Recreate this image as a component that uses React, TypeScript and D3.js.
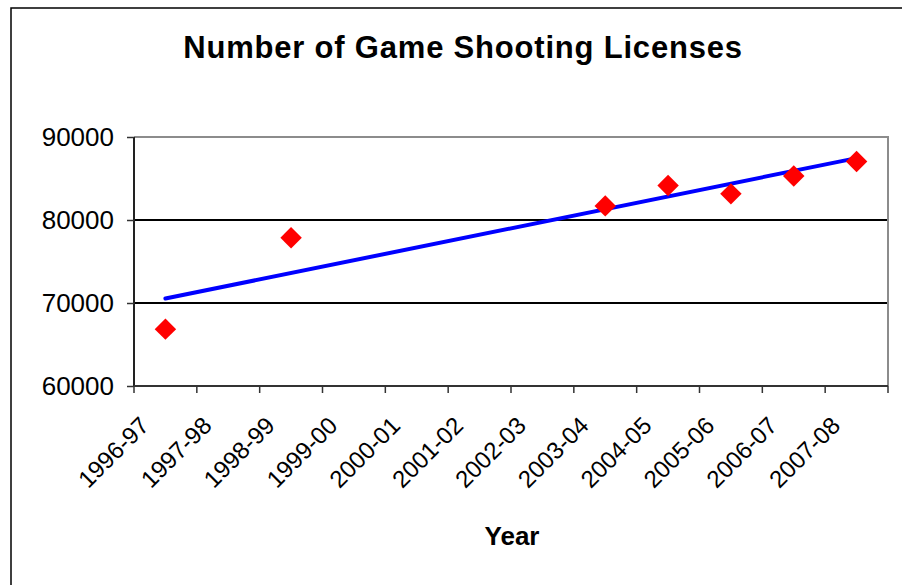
import React, { useEffect, useRef } from 'react';
import * as d3 from 'd3';

const years = [
  '1996-97', '1997-98', '1998-99', '1999-00', '2000-01', '2001-02',
  '2002-03', '2003-04', '2004-05', '2005-06', '2006-07', '2007-08',
];
// null = no licence count reported for that season
const licenses: (number | null)[] = [
  66850, null, 77850, null, null, null, null, 81700, 84150, 83150, 85300, 87050,
];
const yTicks = [60000, 70000, 80000, 90000];

const W = 902;
const H = 585;
const plot = { left: 134, right: 888, top: 137, bottom: 386 };
const FONT = "'Liberation Sans', Arial, sans-serif";

export default function App() {
  const svgRef = useRef<SVGSVGElement>(null);

  useEffect(() => {
    const svg = d3.select(svgRef.current);
    svg.selectAll('*').remove();

    const x = d3.scaleBand<string>().domain(years).range([plot.left, plot.right]);
    const y = d3.scaleLinear().domain([60000, 90000]).range([plot.bottom, plot.top]);
    const cx = (d: string) => (x(d) ?? 0) + x.bandwidth() / 2;

    // chart frame
    svg.append('rect')
      .attr('x', 11).attr('y', 8).attr('width', 1000).attr('height', 1000)
      .attr('fill', 'white').attr('stroke', '#000').attr('stroke-width', 1.5);

    // title
    svg.append('text')
      .attr('x', 463).attr('y', 58)
      .attr('text-anchor', 'middle')
      .style('font-family', FONT).style('font-weight', 'bold')
      .style('font-size', '31px').style('letter-spacing', '0.8px')
      .text('Number of Game Shooting Licenses');

    // gridlines
    svg.append('g').selectAll('line')
      .data([70000, 80000])
      .join('line')
      .attr('x1', plot.left).attr('x2', plot.right)
      .attr('y1', d => y(d)).attr('y2', d => y(d))
      .attr('stroke', '#000').attr('stroke-width', 2);

    // plot border (top + right in grey)
    svg.append('path')
      .attr('d', `M${plot.left},${plot.top}H${plot.right}V${plot.bottom}`)
      .attr('fill', 'none').attr('stroke', '#8c8c8c').attr('stroke-width', 2);

    // y axis
    const yAxis = svg.append('g')
      .attr('transform', `translate(${plot.left},0)`)
      .call(d3.axisLeft(y).tickValues(yTicks).tickSize(7).tickPadding(13).tickFormat(d3.format('d')));
    yAxis.select('.domain').attr('stroke', '#222').attr('stroke-width', 2).attr('d', `M0,${plot.top}V${plot.bottom}`);
    yAxis.selectAll('.tick line').attr('stroke', '#333').attr('stroke-width', 1.5);
    yAxis.selectAll('.tick text')
      .style('font-family', FONT).style('font-size', '26px').attr('fill', '#000');

    // x axis
    const xAxis = svg.append('g').attr('transform', `translate(0,${plot.bottom})`);
    xAxis.append('line')
      .attr('x1', plot.left).attr('x2', plot.right)
      .attr('stroke', '#333').attr('stroke-width', 2);
    const bounds = years.map(d => x(d) ?? 0).concat([plot.right]);
    xAxis.selectAll('line.tk')
      .data(bounds)
      .join('line')
      .attr('class', 'tk')
      .attr('x1', d => d).attr('x2', d => d)
      .attr('y1', 0).attr('y2', 7)
      .attr('stroke', '#333').attr('stroke-width', 1.5);
    xAxis.selectAll('text')
      .data(years)
      .join('text')
      .attr('transform', d => `translate(${cx(d) - 15},${41}) rotate(-45)`)
      .attr('text-anchor', 'end')
      .style('font-family', FONT).style('font-size', '24px')
      .text(d => d);

    // axis title
    svg.append('text')
      .attr('x', 512).attr('y', 545)
      .attr('text-anchor', 'middle')
      .style('font-family', FONT).style('font-weight', 'bold').style('font-size', '26px')
      .text('Year');

    // linear trend line (least squares over category index)
    const pts = years
      .map((d, i) => ({ d, i: i + 1, v: licenses[i] }))
      .filter(p => p.v != null) as { d: string; i: number; v: number }[];
    const mx = d3.mean(pts, p => p.i) ?? 0;
    const my = d3.mean(pts, p => p.v) ?? 0;
    const slope = d3.sum(pts, p => (p.i - mx) * (p.v - my)) / d3.sum(pts, p => (p.i - mx) ** 2);
    const fit = (i: number) => my + slope * (i - mx);
    const first = pts[0];
    const last = pts[pts.length - 1];
    svg.append('path')
      .datum([first, last])
      .attr('d', d3.line<{ d: string; i: number }>()
        .x(p => cx(p.d))
        .y(p => y(fit(p.i))))
      .attr('fill', 'none').attr('stroke', '#0000ff').attr('stroke-width', 4)
      .attr('stroke-linecap', 'round');

    // markers
    svg.append('g').selectAll('path')
      .data(pts)
      .join('path')
      .attr('d', d3.symbol(d3.symbolSquare, 230)())
      .attr('transform', p => `translate(${cx(p.d)},${y(p.v)}) rotate(45)`)
      .attr('fill', '#ff0000');
  }, []);

  return (
    <svg
      ref={svgRef}
      width={W}
      height={H}
      style={{ position: 'absolute', left: 0, top: 0, display: 'block', background: '#fff' }}
    />
  );
}
